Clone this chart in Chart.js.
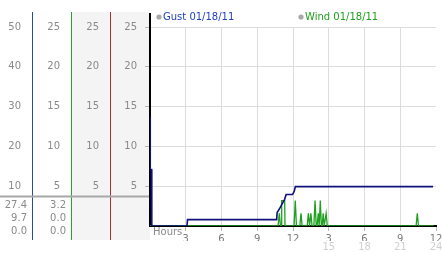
<!DOCTYPE html>
<html>
<head>
<meta charset="utf-8">
<script src="https://cdn.jsdelivr.net/npm/chart.js@4.4.1/dist/chart.umd.min.js"></script>
<style>
  html, body { margin: 0; padding: 0; background: #fff; }
</style>
</head>
<body>
<canvas id="windChart" width="442" height="253"></canvas>
<script>
// данные графика
const gustLabel = 'Gust 01/18/11';
const windLabel = 'Wind 01/18/11';

const gustHours  = [0, 0.02, 0.13, 0.15, 3.1, 3.15, 10.63, 10.67, 10.92, 11.05, 11.3, 11.42, 11.96, 12.1, 12.2, 23.75];
const gustValues = [27.4, 14.2, 14.2, 0, 0, 1.6, 1.6, 3.4, 4.6, 5.4, 6.7, 7.9, 7.9, 8.7, 9.9, 9.9];

const windHours  = [0, 10.75, 10.85, 10.95, 11.02, 11.05, 11.3, 11.33, 12.09, 12.19, 12.29, 12.57, 12.67, 12.77,
                    13.19, 13.29, 13.39, 13.5, 13.6, 13.75, 13.85, 13.95, 14.02, 14.12, 14.2, 14.29, 14.38,
                    14.45, 14.53, 14.62, 14.68, 14.78, 14.88, 22.33, 22.43, 22.53, 23.8];
const windValues = [0, 0, 1.6, 0, 0, 3.2, 3.2, 0, 0, 3.2, 0, 0, 1.6, 0,
                    0, 1.6, 0, 1.6, 0, 0, 3.2, 0, 0, 1.6, 0, 3.2, 0,
                    0, 1.6, 0, 0, 1.6, 0, 0, 1.6, 0, 0];

const gustTicks = [10, 20, 30, 40, 50];
const windTicks = [5, 10, 15, 20, 25];
const hourTicks = [3, 6, 9, 12, 15, 18, 21, 24];

// max / avg / min под шкалами
const gustStats = ['27.4', '9.7', '0.0'];
const windStats = ['3.2', '0.0', '0.0'];

const FONT = 'DejaVu Sans';
const gustColor = '#10107e';
const windColor = '#1fa01f';

function toPoints(xs, ys) {
  return xs.map((x, i) => ({ x: x, y: ys[i] }));
}

function sideAxis(max, ticksList, weight, width, extra) {
  return Object.assign({
    position: 'left',
    weight: weight,
    min: 0,
    max: max,
    afterBuildTicks: (s) => { s.ticks = [0].concat(ticksList).map(v => ({ value: v })); },
    afterFit: (s) => { s.width = width; },
    border: { display: false },
    grid: { display: false, drawTicks: false },
    ticks: {
      padding: 12,
      color: '#8a8a8a',
      font: { family: FONT, size: 10 },
      callback: (v) => (v === 0 ? '' : v)
    }
  }, extra || {});
}

// фон колонок, цветные линии, статистика, легенда
const panelsPlugin = {
  id: 'panels',
  beforeDraw(chart) {
    const ctx = chart.ctx;
    const s = chart.scales;
    ctx.save();
    ctx.fillStyle = '#f4f4f4';
    [s.yRed, s.yMain].forEach(sc => ctx.fillRect(sc.left, 12, sc.right - sc.left, 228));
    ctx.restore();
  },
  beforeDatasetsDraw(chart) {
    const ctx = chart.ctx;
    const s = chart.scales;
    const area = chart.chartArea;
    ctx.save();
    const cols = [[s.yGust, '#2847a8'], [s.yWind, '#2fa02f'], [s.yRed, '#b03030']];
    cols.forEach(([sc, color]) => {
      ctx.strokeStyle = color;
      ctx.lineWidth = 1;
      ctx.beginPath();
      ctx.moveTo(Math.round(sc.right) - 0.5, 12);
      ctx.lineTo(Math.round(sc.right) - 0.5, 240);
      ctx.stroke();
    });
    ctx.strokeStyle = '#000';
    ctx.lineWidth = 2;
    ctx.beginPath();
    ctx.moveTo(area.left, 13);
    ctx.lineTo(area.left, area.bottom + 1);
    ctx.stroke();

    // разделитель
    ctx.strokeStyle = '#a8a8a8';
    ctx.lineWidth = 2;
    ctx.beginPath();
    ctx.moveTo(0, area.bottom - 29.5);
    ctx.lineTo(area.left - 1, area.bottom - 29.5);
    ctx.stroke();

    ctx.font = '10px "' + FONT + '"';
    ctx.fillStyle = '#8a8a8a';
    ctx.textAlign = 'right';
    ctx.textBaseline = 'middle';
    const rows = [area.bottom - 21, area.bottom - 8, area.bottom + 5];
    gustStats.forEach((t, i) => ctx.fillText(t, s.yGust.right - 6, rows[i]));
    windStats.forEach((t, i) => ctx.fillText(t, s.yWind.right - 6, rows[i]));

    ctx.textAlign = 'left';
    ctx.fillText('Hours', area.left + 3, area.bottom + 6);

    // легенда
    const items = [[gustLabel, '#2040c0', area.left + 9], [windLabel, windColor, area.left + 151]];
    items.forEach(([label, color, x]) => {
      ctx.fillStyle = '#a8a8a8';
      ctx.beginPath();
      ctx.arc(x, 17, 2.6, 0, Math.PI * 2);
      ctx.fill();
      ctx.fillStyle = color;
      ctx.fillText(label, x + 4, 17);
    });
    ctx.restore();
  }
};

const ctx = document.getElementById('windChart').getContext('2d');
new Chart(ctx, {
  type: 'line',
  data: {
    datasets: [{
      label: gustLabel,
      data: toPoints(gustHours, gustValues),
      yAxisID: 'yGust',
      borderColor: gustColor,
      borderWidth: 1.6,
      pointRadius: 0,
      tension: 0
    }, {
      label: windLabel,
      data: toPoints(windHours, windValues),
      yAxisID: 'yWind',
      borderColor: windColor,
      borderWidth: 1.3,
      pointRadius: 0,
      tension: 0
    }]
  },
  options: {
    responsive: false,
    animation: false,
    devicePixelRatio: 1,
    layout: { padding: { top: 27, right: 6, left: 0, bottom: 0 } },
    plugins: { legend: { display: false }, tooltip: { enabled: false } },
    scales: {
      x: {
        type: 'linear',
        position: 'bottom',
        weight: 1,
        min: 0,
        max: 24,
        afterBuildTicks: (s) => { s.ticks = [0].concat(hourTicks).map(v => ({ value: v })); },
        afterFit: (s) => { s.height = 15; s.paddingRight = 0; s.paddingLeft = 0; },
        border: { display: true, color: '#000', width: 2 },
        grid: {
          color: (c) => (c.tick && (c.tick.value === 0 || c.tick.value === 24) ? 'rgba(0,0,0,0)' : '#dcdcdc'),
          tickColor: (c) => (c.tick && c.tick.value === 0 ? 'rgba(0,0,0,0)' : '#b8b8b8'),
          tickLength: 5
        },
        ticks: {
          padding: 2,
          color: '#7a7a7a',
          maxRotation: 0,
          font: { family: FONT, size: 10 },
          callback: (v) => (v === 0 ? '' : ((v - 1) % 12) + 1)
        }
      },
      x2: {
        type: 'linear',
        position: 'bottom',
        weight: 2,
        min: 0,
        max: 24,
        afterBuildTicks: (s) => { s.ticks = hourTicks.map(v => ({ value: v })); },
        afterFit: (s) => { s.height = 12; s.paddingRight = 0; s.paddingLeft = 0; },
        border: { display: false },
        grid: { display: false, drawTicks: false },
        ticks: {
          padding: 0,
          color: '#d0d0d0',
          maxRotation: 0,
          font: { family: FONT, size: 10 },
          callback: (v) => (v > 12 ? v : '')
        }
      },
      yGust: sideAxis(50, gustTicks, 4, 33),
      yWind: sideAxis(25, windTicks, 3, 39),
      yRed: sideAxis(25, windTicks, 2, 39),
      yMain: sideAxis(25, windTicks, 1, 39, {
        grid: {
          display: true,
          drawTicks: true,
          tickLength: 5,
          color: (c) => (c.tick && c.tick.value === 0 ? 'rgba(0,0,0,0)' : '#dcdcdc'),
          tickColor: (c) => (c.tick && c.tick.value === 0 ? 'rgba(0,0,0,0)' : '#b8b8b8')
        },
        ticks: {
          padding: 8,
          color: '#8a8a8a',
          font: { family: FONT, size: 10 },
          callback: (v) => (v === 0 ? '' : v)
        }
      })
    }
  },
  plugins: [panelsPlugin]
});
</script>
</body>
</html>
